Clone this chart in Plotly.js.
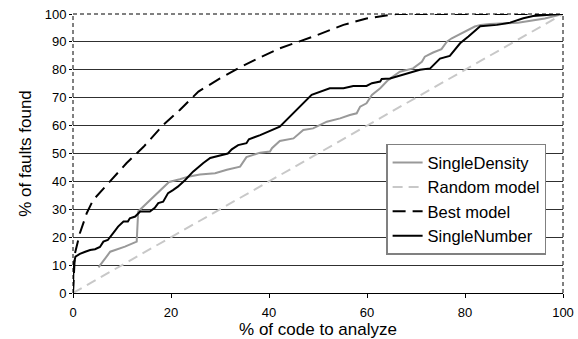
<!DOCTYPE html>
<html>
<head>
<meta charset="utf-8">
<script src="https://cdn.plot.ly/plotly-3.0.1.min.js"></script>
<style>html,body{margin:0;padding:0;background:#fff;}#chart{width:578px;height:339px;}</style>
</head>
<body>
<div id="chart"></div>
<script>
// SingleDensity (gray solid)
var sdX = [5.2, 7.6, 10.6, 13, 13.3, 16.4, 19.6, 21.8, 23.5, 25.9, 29, 31.4, 34.1, 35.4, 38.2, 40.2, 40.6, 42.2, 45, 47, 49, 51.8, 54.5, 56.5, 57.9, 58.6, 59.9, 61, 62.7, 64.3, 66.7, 69.4, 71.2, 71.8, 73.5, 75.2, 76.3, 77.3, 79, 80.7, 82, 83.2, 85.1, 90.8, 93.6, 96.3, 100];
var sdY = [9.2, 14.8, 16.6, 18.4, 29.2, 34.5, 39.8, 40.8, 41.7, 42.5, 42.9, 44.2, 45.3, 48.7, 50.3, 50.7, 51.9, 54.5, 55.4, 58.4, 59, 61.4, 62.6, 63.8, 64.4, 66.8, 68, 71, 73.4, 76.3, 79.3, 80.5, 82.9, 84.7, 86.2, 87.4, 90.1, 91.3, 92.8, 94.5, 95.5, 96.1, 96.4, 96.9, 97.8, 98.4, 100];
// Random model (light gray dashed)
var rmX = [0, 100];
var rmY = [0, 100];
// Best model (black dashed)
var bmX = [0, 0.4, 1.4, 2.8, 4.1, 7.6, 10.9, 14.4, 18.4, 21.8, 25.6, 30, 34.4, 38, 42.2, 49, 55.2, 59.9, 64, 66, 100];
var bmY = [0, 14.2, 21.4, 28.6, 33.3, 40, 46.5, 52.4, 60.2, 65.6, 72.2, 76.9, 81.2, 84.3, 87.7, 91.9, 96.1, 98.4, 99.6, 100, 100];
// SingleNumber (black solid)
var snX = [0, 0.1, 0.5, 1.4, 2.5, 3.5, 4.5, 5.5, 6.2, 7.1, 8.2, 9.2, 10.3, 11.2, 11.6, 12.7, 13.7, 15.7, 16.7, 17.4, 18.4, 19.4, 20.4, 21.4, 22.9, 24.5, 26.6, 28, 30, 31.6, 32.4, 33.7, 35.4, 35.9, 38.2, 40.2, 42.2, 48.7, 50.4, 52.4, 55.2, 57.2, 59.9, 61, 62.7, 63, 64.7, 68.1, 70.8, 72.9, 74.9, 76.9, 79, 80.7, 83.1, 86.5, 89.2, 91.9, 93.9, 99.4, 100];
var snY = [0, 10, 13, 14, 14.8, 15.4, 15.7, 16.5, 18.4, 19, 21.5, 23.8, 25.6, 25.6, 26.8, 27.4, 29.2, 29.2, 30.5, 32.2, 32.7, 35.8, 36.9, 38.1, 40.5, 43.5, 46.6, 48.4, 49.3, 50, 51.5, 53, 53.7, 55.1, 56.6, 58.2, 59.6, 71, 72.2, 73.4, 73.4, 74.2, 74.2, 75.2, 75.8, 76.7, 76.9, 78.7, 80, 80.5, 84, 85, 89.5, 91.9, 95.6, 96.1, 96.9, 98.5, 99.3, 100, 100];

var seriesNames = ["SingleDensity", "Random model", "Best model", "SingleNumber"];
var xTicks = [0, 20, 40, 60, 80, 100];
var yTicks = [0, 10, 20, 30, 40, 50, 60, 70, 80, 90, 100];

var FONT = "Liberation Sans, Arial, sans-serif";

var traces = [
  {x: sdX, y: sdY, name: seriesNames[0], mode: "lines", line: {color: "#999999", width: 2}},
  {x: rmX, y: rmY, name: seriesNames[1], mode: "lines", line: {color: "#c8c8c8", width: 2, dash: "10px,6px"}},
  {x: bmX, y: bmY, name: seriesNames[2], mode: "lines", line: {color: "#000000", width: 2, dash: "13px,7px"}},
  {x: snX, y: snY, name: seriesNames[3], mode: "lines", line: {color: "#000000", width: 2}}
];

var layout = {
  width: 578, height: 339,
  margin: {l: 73, r: 15, t: 14, b: 46, pad: 0},
  paper_bgcolor: "#ffffff", plot_bgcolor: "#ffffff",
  font: {family: FONT, color: "#000000"},
  showlegend: true,
  legend: {
    x: 0.639, y: 0.535, xanchor: "left", yanchor: "top",
    bgcolor: "#ffffff", bordercolor: "#808080", borderwidth: 1.5,
    font: {family: FONT, size: 16.5, color: "#000000"},
    traceorder: "normal"
  },
  xaxis: {
    range: [0, 100], tickvals: xTicks, ticktext: xTicks.map(String),
    showgrid: false, zeroline: false,
    showline: true, linecolor: "#000000", linewidth: 1,
    ticks: "outside", ticklen: 4, tickcolor: "#000000",
    ticklabelstandoff: 3,
    tickfont: {family: FONT, size: 13, color: "#000000"},
    title: {text: "% of code to analyze", font: {family: FONT, size: 17, color: "#000000"}, standoff: 3}
  },
  yaxis: {
    range: [0, 100], tickvals: yTicks, ticktext: yTicks.map(String),
    showgrid: true, gridcolor: "#303030", gridwidth: 1,
    zeroline: false, showline: false,
    ticks: "outside", ticklen: 3, tickcolor: "#000000",
    tickfont: {family: FONT, size: 13, color: "#000000"},
    title: {text: "% of faults found", font: {family: FONT, size: 17, color: "#000000"}, standoff: 8}
  },
  shapes: [
    {type: "line", xref: "paper", yref: "paper", x0: 0, x1: 0, y0: 0, y1: 1, line: {color: "#000000", width: 1, dash: "4px,3px"}, layer: "above"},
    {type: "line", xref: "paper", yref: "paper", x0: 1, x1: 1, y0: 0, y1: 1, line: {color: "#000000", width: 1, dash: "4px,3px"}, layer: "above"},
    {type: "line", xref: "paper", yref: "paper", x0: 0, x1: 1, y0: 1, y1: 1, line: {color: "#000000", width: 1, dash: "4px,3px"}, layer: "below"}
  ]
};

Plotly.newPlot("chart", traces, layout, {staticPlot: true, displayModeBar: false});
</script>
</body>
</html>
